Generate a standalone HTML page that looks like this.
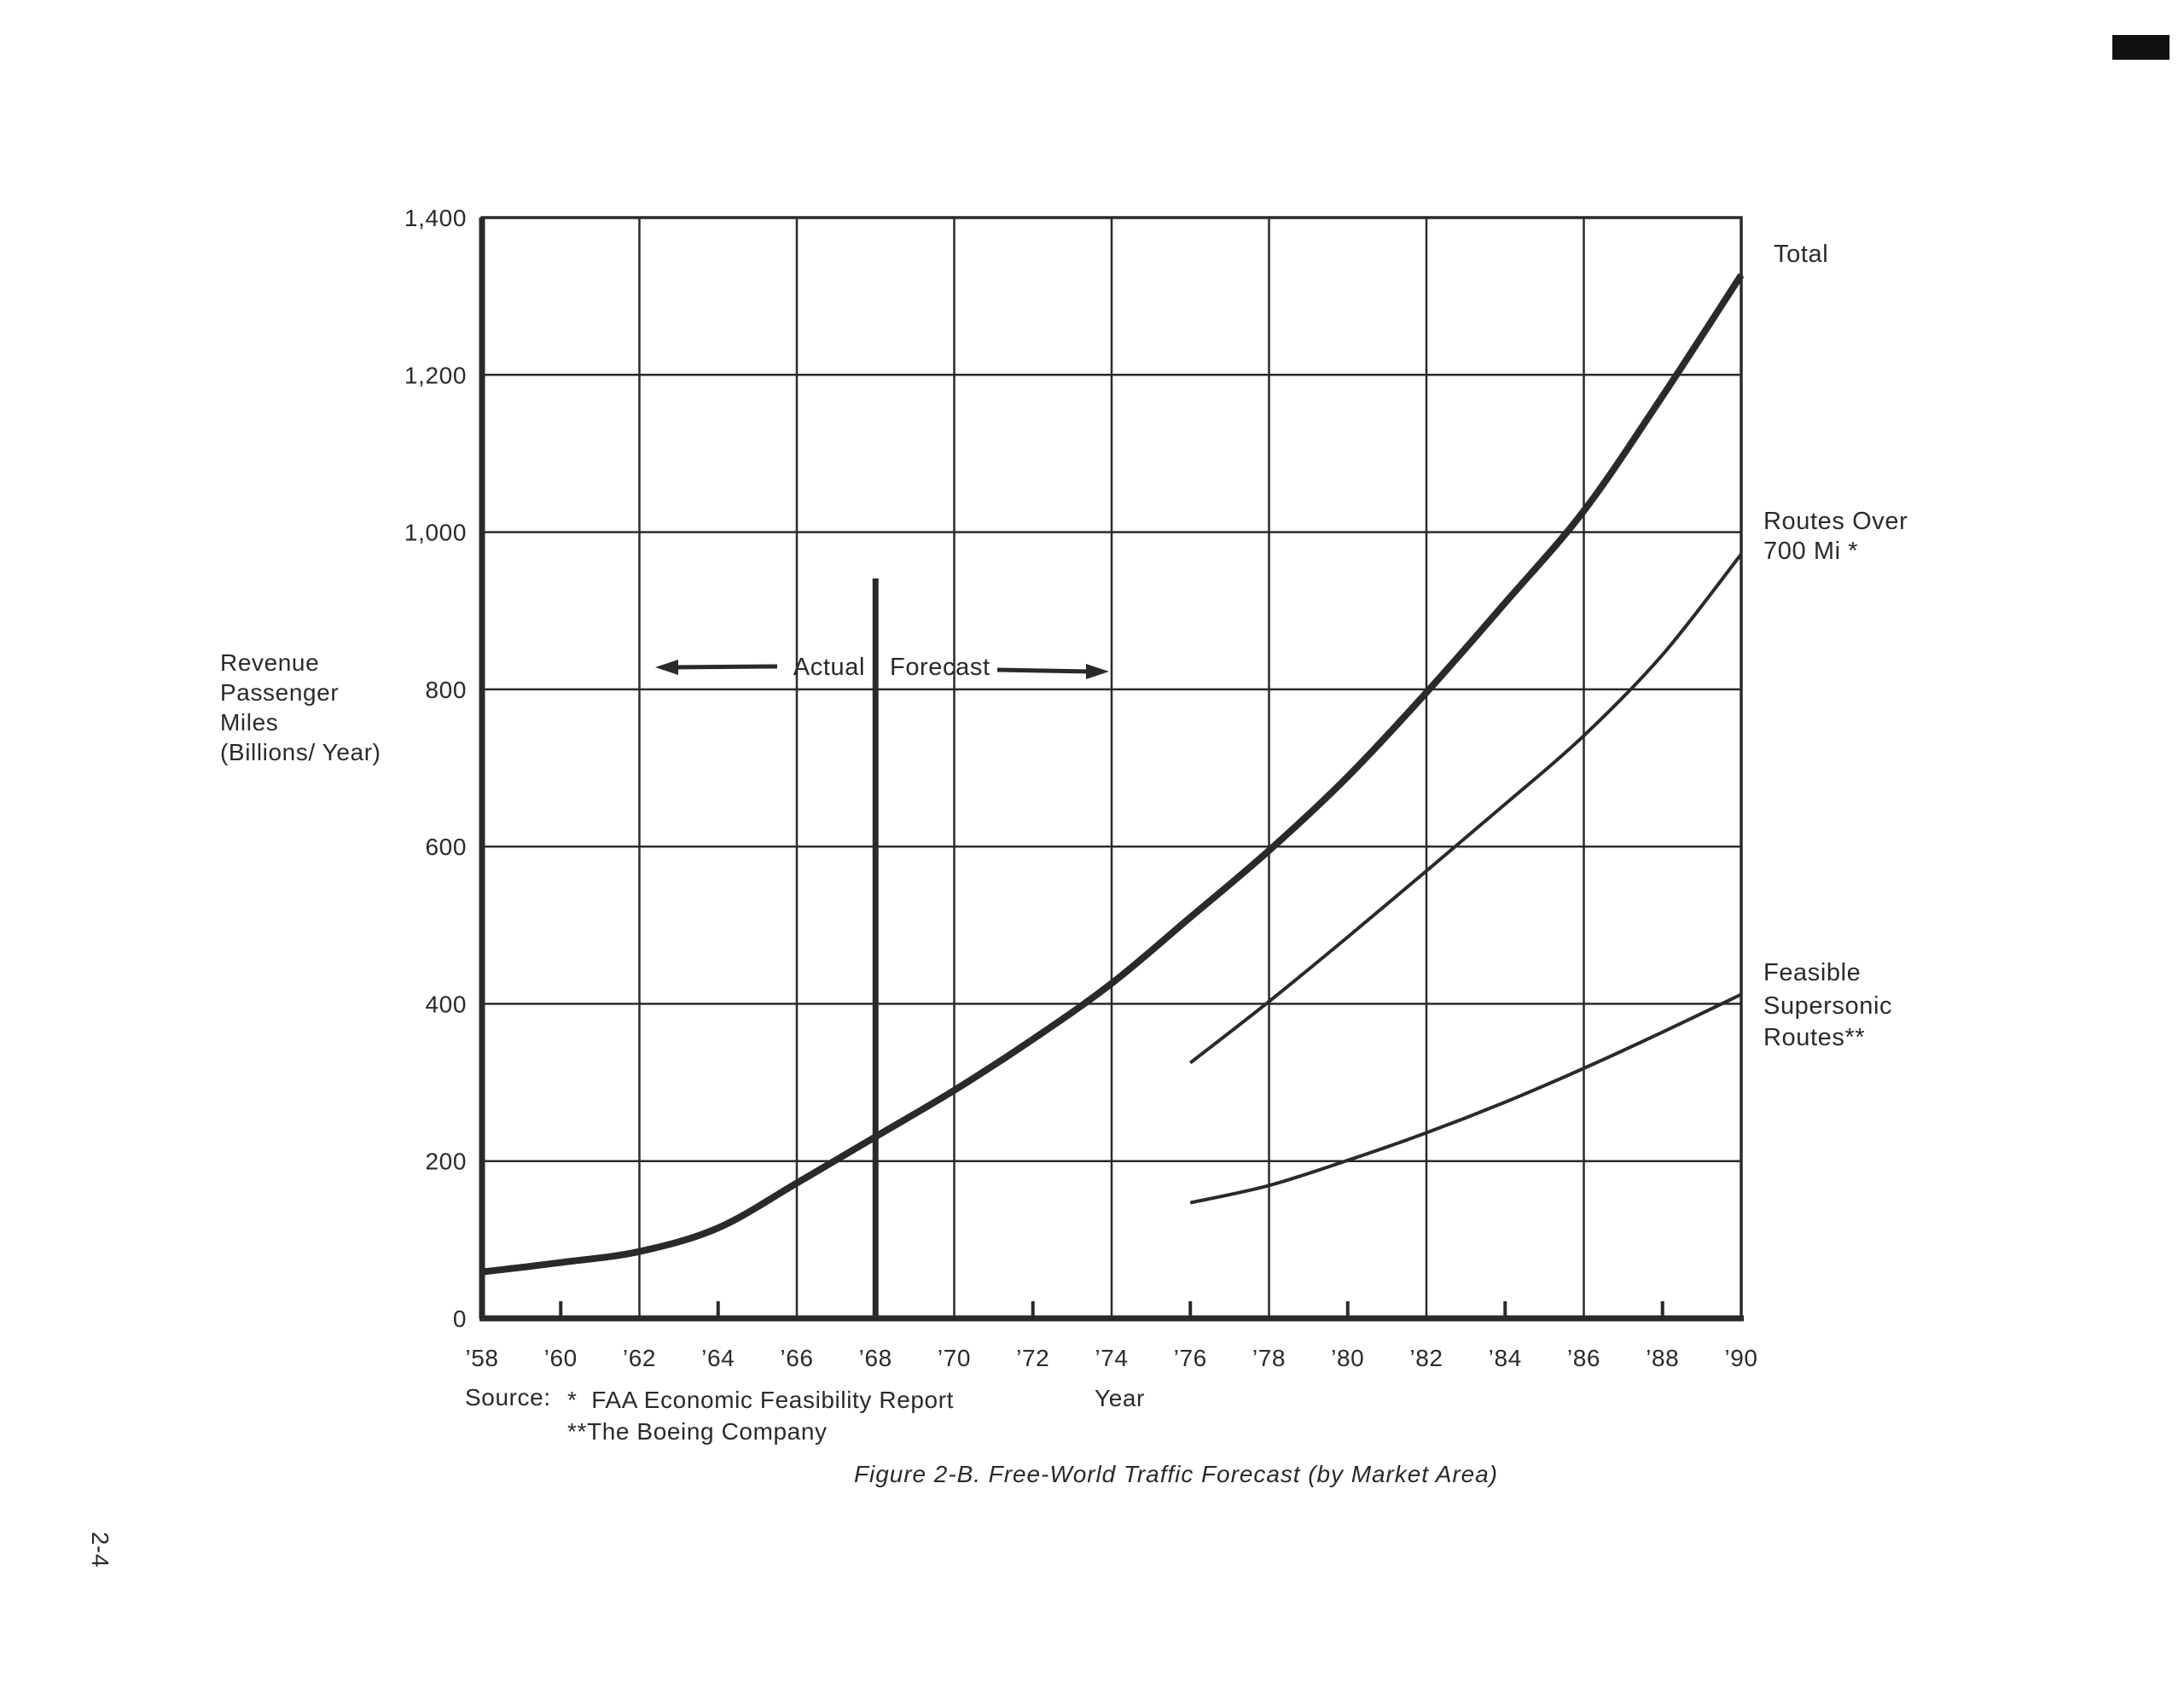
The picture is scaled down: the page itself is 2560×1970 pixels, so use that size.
<!DOCTYPE html>
<html><head><meta charset="utf-8"><style>
html,body{margin:0;padding:0;background:#fff}
svg{display:block}
text{font-family:"Liberation Sans",sans-serif;fill:#2a2a2a;letter-spacing:0.6px}
</style></head><body>
<svg width="2560" height="1970" viewBox="0 0 2560 1970" xmlns="http://www.w3.org/2000/svg">
<rect x="2476" y="41" width="67" height="29" fill="#111"/>
<g id="grid"></g>
<g id="series"></g>
<g id="labels"></g>
<g>
<line x1="790" y1="782" x2="911" y2="781" stroke="#2a2a2a" stroke-width="5"/>
<polygon points="768,782 795,773 795,791" fill="#2a2a2a"/>
<text x="1014" y="791" font-size="29" text-anchor="end">Actual</text>
<text x="1043" y="791" font-size="29">Forecast</text>
<line x1="1169" y1="785" x2="1278" y2="787" stroke="#2a2a2a" stroke-width="5"/>
<polygon points="1300,787 1273,778 1273,796" fill="#2a2a2a"/>
</g>
<g font-size="28">
<text x="258" y="786">Revenue</text>
<text x="258" y="821">Passenger</text>
<text x="258" y="856">Miles</text>
<text x="258" y="891">(Billions/ Year)</text>
</g>
<g font-size="29">
<text x="2079" y="307">Total</text>
<text x="2067" y="620">Routes Over</text>
<text x="2067" y="655">700 Mi *</text>
<text x="2067" y="1149">Feasible</text>
<text x="2067" y="1188">Supersonic</text>
<text x="2067" y="1225">Routes**</text>
</g>
<g font-size="28">
<text x="545" y="1647">Source:</text>
<text x="665" y="1650">*&#160;&#160;FAA Economic Feasibility Report</text>
<text x="665" y="1687">**The Boeing Company</text>
</g>
<text x="1283" y="1648" font-size="28">Year</text>
<text x="1001" y="1737" font-size="28" font-style="italic" style="letter-spacing:0.95px">Figure 2-B.  Free-World Traffic Forecast (by Market Area)</text>
<text transform="translate(108,1795) rotate(90)" font-size="28">2-4</text>
</svg>
<script>
const years=[58,60,62,64,66,68,70,72,74,76,78,80,82,84,86,88,90];
const yTicks=[0,200,400,600,800,1000,1200,1400];
const yTickLabels=["0","200","400","600","800","1,000","1,200","1,400"];
const xTickLabels=["’58","’60","’62","’64","’66","’68","’70","’72","’74","’76","’78","’80","’82","’84","’86","’88","’90"];
const totalValues=[59,71,85,115,172,231,290,355,426,510,595,689,796,910,1027,1173,1327];
const routesYears=[76,78,80,82,84,86,88,90];
const routesValues=[325,403,485,569,654,741,844,972];
const superValues=[147,169,201,236,275,318,364,412];
const dividerYear=68, dividerTop=941;

const L=565,R=2041,T=255,B=1545;
const X=y=>L+(y-58)/(90-58)*(R-L);
const Y=v=>B-v/1400*(B-T);
const NS="http://www.w3.org/2000/svg";
function mk(tag,attrs,parent){const e=document.createElementNS(NS,tag);for(const k in attrs)e.setAttribute(k,attrs[k]);parent.appendChild(e);return e;}
const grid=document.getElementById('grid'),ser=document.getElementById('series'),lab=document.getElementById('labels');
yTicks.forEach((v,i)=>{
  if(v>0&&v<1400){const l=mk('line',{x1:L,x2:R,y1:Y(v),y2:Y(v),stroke:'#2a2a2a','stroke-width':2.5},grid);
  
  }
  const t=mk('text',{x:547,y:Y(v)+10,'font-size':28,'text-anchor':'end'},lab);t.textContent=yTickLabels[i];
  
  
});
years.forEach((yr,i)=>{
  if((yr-58)%4===0){ if(yr>58&&yr<90){const l=mk('line',{x1:X(yr),x2:X(yr),y1:T,y2:B,stroke:'#2a2a2a','stroke-width':2.5},grid);
    
    }}
  else{const l=mk('line',{x1:X(yr),x2:X(yr),y1:B-20,y2:B,stroke:'#2a2a2a','stroke-width':4},grid);
    
    }
  const t=mk('text',{x:X(yr),y:1601,'font-size':28,'text-anchor':'middle'},lab);t.textContent=xTickLabels[i];
  
  
});
const frame=mk('path',{d:`M${L},${B} L${L},${T} L${R},${T} L${R},${B}`,fill:'none',stroke:'#2a2a2a','stroke-width':3.5},grid);


const yax=mk('line',{x1:L,x2:L,y1:T,y2:B,stroke:'#2a2a2a','stroke-width':7},grid);


const xax=mk('line',{x1:L-3,x2:R+3,y1:B,y2:B,stroke:'#2a2a2a','stroke-width':7},grid);


const div=mk('line',{x1:X(dividerYear),x2:X(dividerYear),y1:Y(dividerTop),y2:B,stroke:'#2a2a2a','stroke-width':7},grid);


function smooth(xs,vs){const p=xs.map((x,i)=>[X(x),Y(vs[i])]);let d=`M${p[0][0]},${p[0][1]}`;
  for(let i=0;i<p.length-1;i++){const p0=p[i-1]||p[i],p1=p[i],p2=p[i+1],p3=p[i+2]||p2;
    d+=` C${p1[0]+(p2[0]-p0[0])/6},${p1[1]+(p2[1]-p0[1])/6} ${p2[0]-(p3[0]-p1[0])/6},${p2[1]-(p3[1]-p1[1])/6} ${p2[0]},${p2[1]}`;}
  return d;}
const s1=mk('path',{d:smooth(years,totalValues),fill:'none',stroke:'#2a2a2a','stroke-width':8},ser);


const s2=mk('path',{d:smooth(routesYears,routesValues),fill:'none',stroke:'#2a2a2a','stroke-width':4},ser);


const s3=mk('path',{d:smooth(routesYears,superValues),fill:'none',stroke:'#2a2a2a','stroke-width':4},ser);


</script>
</body></html>
